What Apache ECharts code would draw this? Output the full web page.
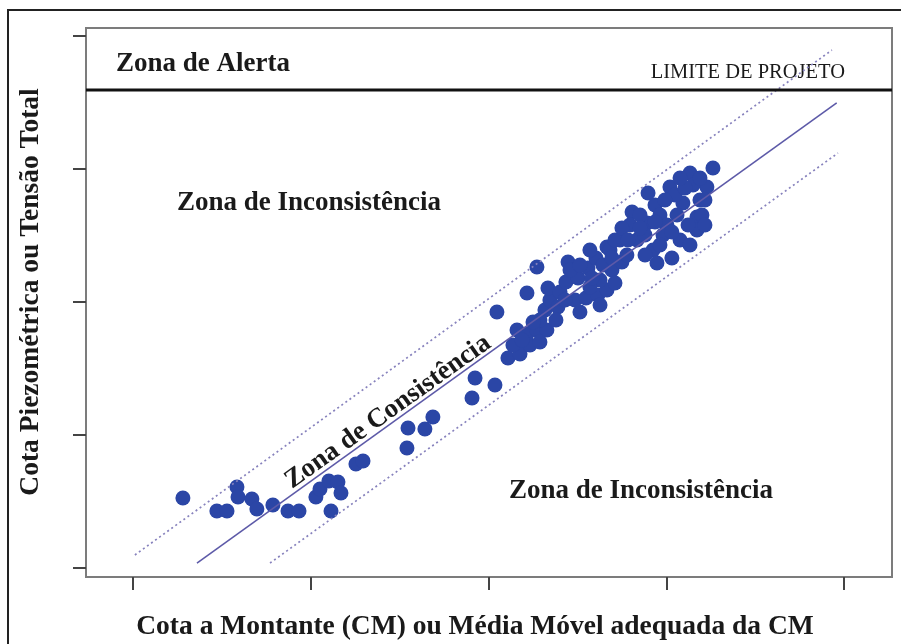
<!DOCTYPE html>
<html>
<head>
<meta charset="utf-8">
<script src="https://cdn.jsdelivr.net/npm/echarts@6/dist/echarts.min.js"></script>
<style>
  html, body { margin: 0; padding: 0; background: #ffffff; }
  #chart { width: 901px; height: 644px; }
</style>
</head>
<body>
<div id="chart"></div>
<script>
// Upstream level (CM) readings, arbitrary units
const cotaMontante = [
  2.81, 4.72, 5.29, 5.85, 5.91, 6.69, 6.97, 7.87, 8.72, 9.34,
  10.29, 10.52, 11.02, 11.53, 11.70, 11.14, 12.54, 12.94,
  15.41, 15.47, 16.42, 16.87, 19.07, 19.24, 20.36, 20.47,
  21.09, 21.77, 21.37, 21.60, 22.16, 22.72, 23.28, 22.16, 22.72, 24.47,
  23.17, 23.45, 23.34, 23.90, 24.02, 24.35, 23.79, 22.89, 25.03, 25.59,
  26.04, 26.66, 24.86, 25.48, 25.14, 26.15, 26.66, 26.27, 26.94,
  26.83, 27.50, 27.78, 28.35, 28.07, 27.95, 28.91, 28.97, 29.36, 29.64,
  30.03, 29.81, 29.25, 29.47, 30.31, 30.77, 30.20, 30.93, 31.33, 31.89,
  31.72, 31.72, 32.28, 32.62, 30.60, 31.22, 28.80, 27.39, 30.48, 31.50,
  31.89, 31.33, 27.11, 25.70, 26.27, 22.33, 22.89,
  21.88, 22.50, 24.30, 24.58, 25.14, 25.82, 26.43, 27.11, 27.50, 28.52,
  29.36, 30.31, 29.92, 31.05, 32.17, 32.00, 30.77, 29.64, 28.80, 26.94,
  25.70, 28.52, 27.84, 32.17
];
// Piezometric level / total stress readings, same order
const cotaPiezometrica = [
  5.24, 4.27, 4.27, 6.07, 5.32, 5.17, 4.42, 4.72, 4.27, 4.27,
  5.32, 5.92, 6.52, 6.45, 5.62, 4.27, 7.80, 8.03,
  9.01, 10.51, 10.44, 11.34, 12.77, 14.27, 13.75, 19.24,
  15.78, 16.08, 16.76, 17.89, 17.58, 17.89, 17.89, 20.67, 22.63, 23.00,
  19.39, 20.14, 21.05, 19.62, 20.74, 21.50, 18.64, 18.64, 21.80, 22.55,
  23.30, 24.13, 20.14, 20.29, 19.24, 20.52, 20.90, 21.65, 22.40,
  23.91, 23.00, 23.53, 24.66, 26.76, 25.79, 25.94, 28.19, 27.29, 26.54,
  25.79, 25.03, 23.91, 22.93, 23.30, 24.66, 28.65, 27.44, 29.70, 27.67,
  26.39, 25.41, 28.65, 30.08, 26.54, 25.79, 25.03, 24.66, 28.04, 28.80,
  29.32, 24.28, 21.42, 21.12, 19.77, 16.76, 16.98,
  17.13, 18.49, 20.14, 22.40, 22.78, 21.80, 22.78, 24.66, 25.56, 26.54,
  26.01, 25.26, 27.67, 28.57, 27.67, 26.54, 29.32, 24.28, 23.53, 23.30,
  23.91, 25.56, 24.66, 25.79
];

// Tick positions on both axes (no labels are drawn)
const tickValuesX = [0, 10, 20, 30, 40];
const tickValuesY = [0, 10, 20, 30, 40];

// Reference lines: trend and consistency band limits (endpoints in data units)
const trendLine = [[3.60, 0.35], [39.58, 34.97]];
const upperBand = [[0.11, 0.96], [39.31, 38.95]];
const lowerBand = [[7.71, 0.35], [39.65, 31.20]];
const limiteProjeto = 35.94;

const xRange = [-2.64, 42.69];
const yRange = [-0.70, 40.61];

const points = cotaMontante.map((x, i) => [x, cotaPiezometrica[i]]);
const limitLine = [[xRange[0], limiteProjeto], [xRange[1], limiteProjeto]];

const serif = '"Liberation Serif", "Times New Roman", serif';
const ink = '#1a1a1a';

const chart = echarts.init(document.getElementById('chart'), null, { renderer: 'canvas' });

chart.setOption({
  animation: false,
  backgroundColor: '#ffffff',
  grid: {
    left: 86, right: 9, top: 28, bottom: 67,
    show: true, borderColor: '#7c7c7c', borderWidth: 2
  },
  xAxis: {
    type: 'value', min: xRange[0], max: xRange[1],
    axisLine: { show: true, onZero: false, lineStyle: { color: '#7c7c7c', width: 2 } },
    axisTick: { show: true, inside: false, length: 13, customValues: tickValuesX,
                lineStyle: { color: '#444', width: 2 } },
    axisLabel: { show: false },
    splitLine: { show: false }
  },
  yAxis: {
    type: 'value', min: yRange[0], max: yRange[1],
    axisLine: { show: true, onZero: false, lineStyle: { color: '#7c7c7c', width: 2 } },
    axisTick: { show: true, inside: false, length: 13, customValues: tickValuesY,
                lineStyle: { color: '#444', width: 2 } },
    axisLabel: { show: false },
    splitLine: { show: false }
  },
  series: [
    {
      type: 'line', data: upperBand, symbol: 'none', silent: true,
      lineStyle: { color: '#8782bd', width: 1.7, type: [2, 3] }
    },
    {
      type: 'line', data: lowerBand, symbol: 'none', silent: true,
      lineStyle: { color: '#8782bd', width: 1.7, type: [2, 3] }
    },
    {
      type: 'line', data: trendLine, symbol: 'none', silent: true,
      lineStyle: { color: '#5d5aa8', width: 1.6 }
    },
    {
      type: 'line', data: limitLine, symbol: 'none', silent: true,
      lineStyle: { color: '#111111', width: 3 }
    },
    {
      type: 'scatter', data: points, symbol: 'circle', symbolSize: 15,
      itemStyle: { color: '#2b46a6', opacity: 1 }
    }
  ],
  graphic: [
    // outer figure border
    {
      type: 'rect', shape: { x: 8, y: 10, width: 1000, height: 1000 },
      style: { fill: 'none', stroke: '#222222', lineWidth: 2 }, silent: true
    },
    {
      type: 'text', x: 116, y: 64,
      style: { text: 'Zona de Alerta', font: 'bold 27px ' + serif, fill: ink,
               align: 'left', verticalAlign: 'middle' }
    },
    {
      type: 'text', x: 845, y: 73,
      style: { text: 'LIMITE DE PROJETO', font: '20.5px ' + serif, fill: ink,
               align: 'right', verticalAlign: 'middle' }
    },
    {
      type: 'text', x: 177, y: 203,
      style: { text: 'Zona de Inconsistência', font: 'bold 27px ' + serif, fill: ink,
               align: 'left', verticalAlign: 'middle' }
    },
    {
      type: 'text', x: 509, y: 491,
      style: { text: 'Zona de Inconsistência', font: 'bold 27px ' + serif, fill: ink,
               align: 'left', verticalAlign: 'middle' }
    },
    {
      type: 'text', x: 388, y: 412, rotation: 35.5 * Math.PI / 180,
      style: { text: 'Zona de Consistência', font: 'bold 27px ' + serif, fill: ink,
               align: 'center', verticalAlign: 'middle' }
    },
    {
      type: 'text', x: 31, y: 292, rotation: Math.PI / 2,
      style: { text: 'Cota Piezométrica ou Tensão Total', font: 'bold 27.5px ' + serif, fill: ink,
               align: 'center', verticalAlign: 'middle' }
    },
    {
      type: 'text', x: 475, y: 627,
      style: { text: 'Cota a Montante (CM) ou Média Móvel adequada da CM', font: 'bold 27.5px ' + serif,
               fill: ink, align: 'center', verticalAlign: 'middle' }
    }
  ]
});
</script>
</body>
</html>
